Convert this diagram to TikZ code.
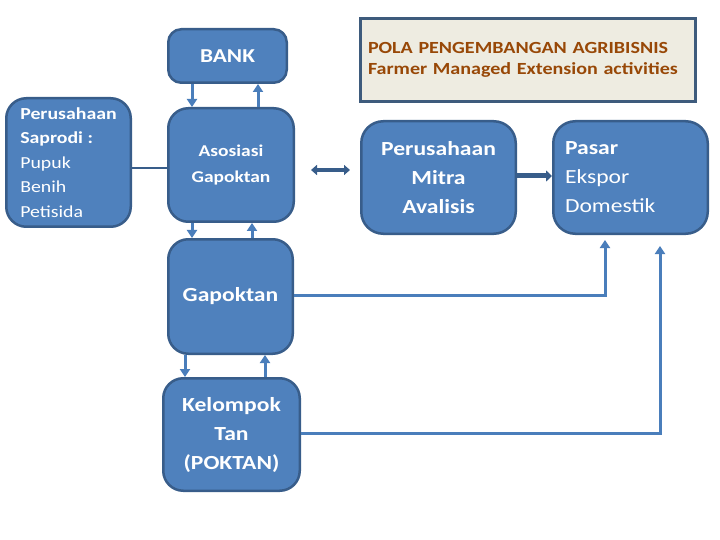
\documentclass[tikz,border=0pt]{standalone}
\usepackage{fontspec}
\setmainfont{Carlito}[FakeStretch=1.18]
\usepackage{tikz}
\usetikzlibrary{arrows.meta}

\definecolor{boxfill}{HTML}{4F81BD}
\definecolor{boxline}{HTML}{385D8A}
\definecolor{linkblue}{HTML}{4A7EBB}
\definecolor{titlefill}{HTML}{EEECE1}
\definecolor{titleline}{HTML}{3E5B7C}
\definecolor{titletext}{HTML}{984807}

\begin{document}
\begin{tikzpicture}[x=1pt, y=-1pt,
  blok/.style={draw=boxline, line width=2.5pt, fill=boxfill, text=white, rounded corners=20pt, inner sep=0pt, align=center},
  big/.style={font=\fontsize{20}{29}\selectfont\bfseries},
  link/.style={draw=linkblue, line width=3pt, -{Triangle[width=10pt,length=8pt]}},
  flow/.style={draw=boxline, line width=4pt}]
  \useasboundingbox (0,0) rectangle (720,540);

  % kotak
  \node[blok, rounded corners=13pt, minimum width=118.5pt, minimum height=53.5pt, font=\fontsize{19.7}{24}\selectfont\bfseries] (bank) at (227.5,56) {BANK};
  \node[blok, minimum width=125.5pt, minimum height=113.5pt, font=\fontsize{16.5}{26.5}\selectfont\bfseries] (asosiasi) at (231,165) {Asosiasi\\Gapoktan};
  \node[blok, minimum width=124.5pt, minimum height=128.5pt, align=left, font=\fontsize{16.8}{24.5}\selectfont] (saprodi) at (68.5,162.5) {\textbf{Perusahaan}\\\textbf{Saprodi :}\\Pupuk\\Benih\\Petisida};
  \node[blok, big, minimum width=124.5pt, minimum height=114.5pt] (gapoktan) at (230.5,296.5) {Gapoktan};
  \node[blok, big, minimum width=136.5pt, minimum height=112.5pt] (kelompok) at (231.5,434.5) {Kelompok\\Tan\\(POKTAN)};
  \node[blok, big, rounded corners=22pt, minimum width=154.5pt, minimum height=112.5pt] (mitra) at (438.5,177.5) {Perusahaan\\Mitra\\Avalisis};
  \node[blok, rounded corners=22pt, minimum width=154.5pt, minimum height=112.5pt, text width=131pt, align=left, font=\fontsize{20}{29}\selectfont] (pasar) at (630.5,177.5) {\textbf{Pasar}\\Ekspor\\Domestik};
  \node[draw=titleline, line width=3pt, fill=titlefill, text=titletext, minimum width=335pt, minimum height=83pt, inner sep=0pt, text width=320pt, align=left, font=\fontsize{17}{20.5}\selectfont\bfseries] (judul) at (528,60) {POLA PENGEMBANGAN AGRIBISNIS\\Farmer Managed Extension activities};

  % panah
  \draw[link] ([xshift=-35.5pt]bank.south) -- ([xshift=-39pt]asosiasi.north);
  \draw[link] ([xshift=27pt]asosiasi.north) -- ([xshift=30.5pt]bank.south);
  \draw[link] ([xshift=-39pt]asosiasi.south) -- ([xshift=-38.5pt]gapoktan.north);
  \draw[link] ([xshift=21.5pt]gapoktan.north) -- ([xshift=21pt]asosiasi.south);
  \draw[link] ([xshift=-45.5pt]gapoktan.south) -- ([xshift=-46.5pt]kelompok.north);
  \draw[link] ([xshift=33.5pt]kelompok.north) -- ([xshift=34.5pt]gapoktan.south);
  \draw[boxline, line width=2.5pt] ([yshift=-5.5pt]saprodi.east) -- ([yshift=-3pt]asosiasi.west);
  \draw[flow, {Triangle[width=10pt,length=6pt]}-{Triangle[width=10pt,length=6pt]}, shorten <=16pt, shorten >=10pt] ([yshift=-5pt]asosiasi.east) -- ([yshift=7.5pt]mitra.west);
  \draw[flow, line width=5pt, -{Triangle[width=11pt,length=6pt]}] ([yshift=1.5pt]mitra.east) -- ([yshift=1.5pt]pasar.west);
  \draw[link, shorten >=5pt] ([yshift=1.5pt]gapoktan.east) -| ([xshift=-25.5pt]pasar.south);
  \draw[link, shorten >=11pt] ([yshift=1.5pt]kelompok.east) -| ([xshift=29.5pt]pasar.south);
\end{tikzpicture}
\end{document}
